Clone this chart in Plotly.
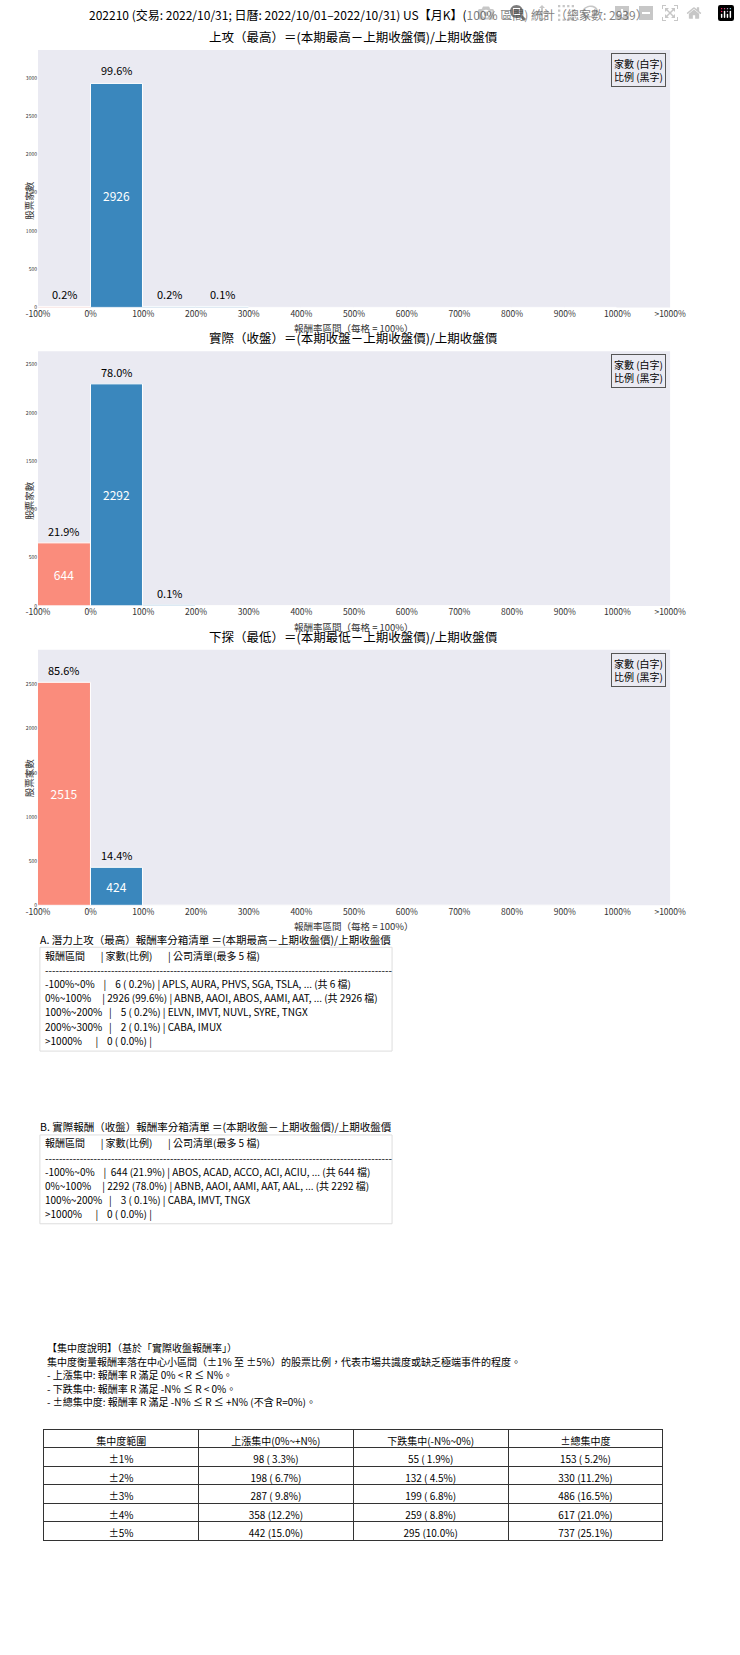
import plotly.graph_objects as go

W, H = 740, 1655

bin_labels = ['-100%', '0%', '100%', '200%', '300%', '400%', '500%', '600%',
              '700%', '800%', '900%', '1000%', '>1000%']
high_counts = [6, 2926, 5, 2, 0, 0, 0, 0, 0, 0, 0]
close_counts = [644, 2292, 3, 0, 0, 0, 0, 0, 0, 0, 0]
low_counts = [2515, 424, 0, 0, 0, 0, 0, 0, 0, 0, 0]
total = 2939

chart_titles = ['上攻（最高）＝(本期最高－上期收盤價)/上期收盤價',
                '實際（收盤）＝(本期收盤－上期收盤價)/上期收盤價',
                '下探（最低）＝(本期最低－上期收盤價)/上期收盤價']

list_a = ['報酬區間       | 家數(比例)       | 公司清單(最多 5 檔)',
          '-' * 100,
          '-100%~0%    |    6 ( 0.2%) | APLS, AURA, PHVS, SGA, TSLA, ... (共 6 檔)',
          '0%~100%     | 2926 (99.6%) | ABNB, AAOI, ABOS, AAMI, AAT, ... (共 2926 檔)',
          '100%~200%   |    5 ( 0.2%) | ELVN, IMVT, NUVL, SYRE, TNGX',
          '200%~300%   |    2 ( 0.1%) | CABA, IMUX',
          '>1000%      |    0 ( 0.0%) |']
list_b = ['報酬區間       | 家數(比例)       | 公司清單(最多 5 檔)',
          '-' * 100,
          '-100%~0%    |  644 (21.9%) | ABOS, ACAD, ACCO, ACI, ACIU, ... (共 644 檔)',
          '0%~100%     | 2292 (78.0%) | ABNB, AAOI, AAMI, AAT, AAL, ... (共 2292 檔)',
          '100%~200%   |    3 ( 0.1%) | CABA, IMVT, TNGX',
          '>1000%      |    0 ( 0.0%) |']
note_lines = ['【集中度說明】（基於「實際收盤報酬率」）',
              '集中度衡量報酬率落在中心小區間（±1% 至 ±5%）的股票比例，代表市場共識度或缺乏極端事件的程度。',
              '- 上漲集中: 報酬率 R 滿足 0% < R ≤ N%。',
              '- 下跌集中: 報酬率 R 滿足 -N% ≤ R < 0%。',
              '- ±總集中度: 報酬率 R 滿足 -N% ≤ R ≤ +N% (不含 R=0%)。']

conc_header = ['集中度範圍', '上漲集中(0%~+N%)', '下跌集中(-N%~0%)', '±總集中度']
conc_range = ['±1%', '±2%', '±3%', '±4%', '±5%']
conc_up = ['98 ( 3.3%)', '198 ( 6.7%)', '287 ( 9.8%)', '358 (12.2%)', '442 (15.0%)']
conc_down = ['55 ( 1.9%)', '132 ( 4.5%)', '199 ( 6.8%)', '259 ( 8.8%)', '295 (10.0%)']
conc_total = ['153 ( 5.2%)', '330 (11.2%)', '486 (16.5%)', '617 (21.0%)', '737 (25.1%)']

FONT = 'Noto Sans CJK TC'
RED, BLUE = '#fa8c7c', '#3a87bd'

def px_x(v):
    return v / W

def px_y(v):
    return 1 - v / H

fig = go.Figure()
panels = [(high_counts, 50, 308), (close_counts, 352, 607), (low_counts, 651, 907)]
annotations = []
shapes = []
for k, (counts, top, bot) in enumerate(panels):
    n = '' if k == 0 else str(k + 1)
    xa, ya = 'x' + n, 'y' + n
    centers = [i + 0.5 for i in range(len(counts))]
    colors = [RED if i == 0 else BLUE for i in range(len(counts))]
    inner = [str(c) if c > 0.08 * max(counts) else '' for c in counts]
    fig.add_trace(go.Bar(x=centers, y=counts, width=1, marker=dict(color=colors, line=dict(color='white', width=1)),
                         text=inner, textposition='inside', insidetextanchor='middle',
                         textfont=dict(color='white', size=12, family=FONT),
                         showlegend=False, xaxis=xa, yaxis=ya, hoverinfo='skip'))
    for c, v in zip(centers, counts):
        if v > 0:
            annotations.append(dict(x=c, y=v, xref=xa, yref=ya, text=f'{v / total * 100:.1f}%', showarrow=False,
                                    yanchor='bottom', yshift=3, font=dict(size=11, color='black', family=FONT)))
    dom = [px_y(bot), px_y(top)]
    fig.update_layout(**{
        ('xaxis' + n): dict(domain=[px_x(27), px_x(684)], range=[0, 12], tickvals=list(range(13)),
                            ticktext=bin_labels, showgrid=False, zeroline=False, anchor=ya,
                            tickfont=dict(size=8.5, color='#333'), ticks=''),
        ('yaxis' + n): dict(domain=dom, range=[0, max(counts) * 1.15], dtick=500, showgrid=False, zeroline=False,
                            tickfont=dict(size=5, color='#333'), anchor=xa, showticklabels=True),
    })
    shapes.append(dict(type='rect', xref='paper', yref='paper', x0=px_x(27), x1=px_x(684), y0=dom[0], y1=dom[1],
                       fillcolor='#eaeaf2', line=dict(width=0), layer='below'))
    annotations += [
        dict(x=px_x(355), y=px_y(top - 2), xref='paper', yref='paper', text=chart_titles[k], showarrow=False,
             yanchor='bottom', font=dict(size=12.5, family=FONT, color='black')),
        dict(x=px_x(355), y=px_y(bot + 12), xref='paper', yref='paper', text='報酬率區間（每格 = 100%）',
             showarrow=False, yanchor='top', font=dict(size=9.5, family=FONT, color='#333')),
        dict(x=px_x(8), y=(dom[0] + dom[1]) / 2, xref='paper', yref='paper', text='股票家數', textangle=-90,
             showarrow=False, font=dict(size=9.5, family=FONT, color='#333')),
        dict(x=px_x(680), y=px_y(top + 3), xref='paper', yref='paper', text='家數 (白字)<br>比例 (黑字)',
             showarrow=False, xanchor='right', yanchor='top', align='left', bordercolor='#555', borderwidth=1,
             borderpad=2, bgcolor='#eaeaf2', font=dict(size=10, family=FONT, color='black')),
    ]

annotations.append(dict(x=px_x(370), y=px_y(4), xref='paper', yref='paper', yanchor='top', showarrow=False,
                        text='202210 (交易: 2022/10/31; 日曆: 2022/10/01–2022/10/31) US【月K】(100% 區間) 統計（總家數: 2939）',
                        font=dict(size=12, family=FONT, color='black')))

def text_lines(lines, x, y0, step, size):
    for i, line in enumerate(lines):
        annotations.append(dict(x=px_x(x), y=px_y(y0 + i * step), xref='paper', yref='paper', xanchor='left',
                                yanchor='middle', showarrow=False, text=line,
                                font=dict(size=size, family=FONT, color='black')))

def text_box(title, lines, top, bot):
    text_lines([title], 27, top - 8, 0, 10.5)
    shapes.append(dict(type='rect', xref='paper', yref='paper', x0=px_x(29), x1=px_x(395), y0=px_y(bot), y1=px_y(top),
                       line=dict(color='#ddd', width=1)))
    text_lines(lines, 32, top + 8, 14.2, 10)

text_box('A. 潛力上攻（最高）報酬率分箱清單 ＝(本期最高－上期收盤價)/上期收盤價', list_a, 949, 1053)
text_box('B. 實際報酬（收盤）報酬率分箱清單 ＝(本期收盤－上期收盤價)/上期收盤價', list_b, 1137, 1226)

text_lines(note_lines, 34, 1350, 13.6, 10)

fig.add_trace(go.Table(
    domain=dict(x=[px_x(33), px_x(677)], y=[px_y(1548), px_y(1432)]),
    header=dict(values=conc_header, height=18.5, align='center', fill_color='white',
                line=dict(color='#333', width=1), font=dict(size=10, family=FONT, color='black')),
    cells=dict(values=[conc_range, conc_up, conc_down, conc_total], height=18.5, align='center',
               fill_color='white', line=dict(color='#333', width=1), font=dict(size=10, family=FONT, color='black')),
))

fig.update_layout(width=W, height=H, margin=dict(l=0, r=0, t=0, b=0), plot_bgcolor='rgba(0,0,0,0)',
                  paper_bgcolor='white', bargap=0, annotations=annotations, shapes=shapes,
                  font=dict(family=FONT))
fig.write_html('out.html', post_script="document.body.style.margin='0';document.body.style.overflow='hidden';")
